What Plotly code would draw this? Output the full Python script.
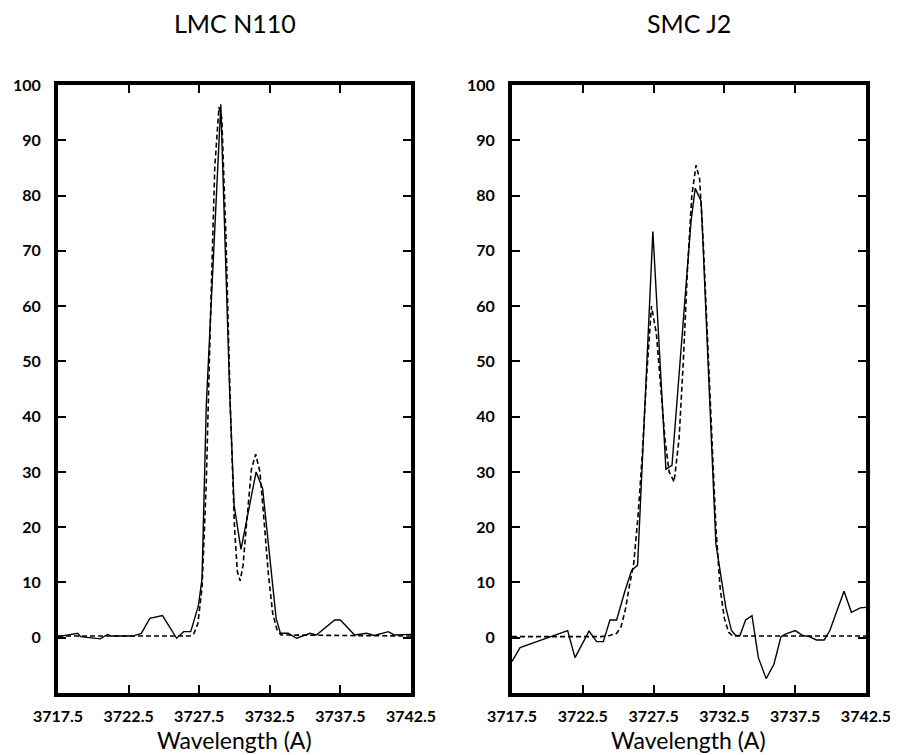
import plotly.graph_objects as go
from plotly.subplots import make_subplots

# LMC N110 - observed (solid) and fitted (dashed)
lmc_wave_obs = [3717.5, 3718.9, 3719.1, 3720.5, 3721.0, 3721.3, 3722.8, 3723.4, 3724.0, 3724.9,
                3725.9, 3726.4, 3726.9, 3727.45, 3727.7, 3728.0, 3729.03, 3729.65, 3729.97, 3730.46,
                3731.53, 3731.99, 3732.95, 3733.25, 3733.8, 3734.4, 3735.35, 3735.8, 3737.1, 3737.5,
                3738.5, 3739.35, 3739.9, 3740.9, 3741.3, 3742.5]
lmc_flux_obs = [0.2, 0.8, 0.2, -0.2, 0.6, 0.3, 0.3, 0.8, 3.5, 4.0,
                -0.1, 1.1, 1.1, 5.9, 10.7, 42, 96.5, 45, 24, 16,
                30, 27, 3.5, 0.8, 0.8, -0.1, 0.8, 0.5, 3.2, 3.2,
                0.5, 0.8, 0.4, 1.1, 0.5, 0.6]
lmc_wave_fit = [3717.5, 3726.8, 3727.1, 3727.4, 3727.7, 3728.0, 3728.3, 3728.6, 3728.9, 3729.1,
                3729.4, 3729.7, 3730.0, 3730.2, 3730.4, 3730.6, 3730.9, 3731.2, 3731.5, 3731.8,
                3732.1, 3732.4, 3732.7, 3733.0, 3733.3, 3742.5]
lmc_flux_fit = [0.3, 0.3, 0.6, 2.5, 9, 28, 58, 85, 96, 94,
                72, 42, 20, 12, 10.3, 13, 22, 30.5, 33.2, 30,
                21, 11.5, 4.5, 1.5, 0.5, 0.3]

# SMC J2 - observed (solid) and fitted (dashed)
smc_wave_obs = [3717.5, 3718.07, 3721.43, 3721.95, 3722.94, 3723.48, 3723.95, 3724.42, 3724.89, 3725.48,
                3725.95, 3726.37, 3727.45, 3728.37, 3728.8, 3730.15, 3730.44, 3730.86, 3731.4, 3731.9,
                3732.6, 3733.0, 3733.3, 3733.6, 3734.0, 3734.45, 3734.9, 3735.45, 3736.0, 3736.5,
                3736.85, 3737.5, 3738.05, 3738.5, 3739.0, 3739.55, 3739.95, 3740.95, 3741.47, 3742.1,
                3742.5]
smc_flux_obs = [-4.3, -1.8, 1.3, -3.6, 1.2, -0.7, -0.7, 3.2, 3.2, 8.5,
                12.2, 13.1, 73.5, 30.5, 31.2, 75.5, 81.3, 79, 46.7, 17,
                5.5, 1.3, 0.4, 0.4, 3.2, 4.0, -3.6, -7.4, -4.8, 0.2,
                0.7, 1.3, 0.4, 0.2, -0.4, -0.4, 1.3, 8.4, 4.6, 5.4,
                5.5]
smc_wave_fit = [3717.5, 3723.8, 3724.4, 3724.9, 3725.2, 3725.5, 3725.8, 3726.1, 3726.4, 3726.7,
                3727.0, 3727.35, 3727.7, 3728.0, 3728.3, 3728.6, 3728.95, 3729.3, 3729.6, 3729.9,
                3730.2, 3730.5, 3730.75, 3731.0, 3731.3, 3731.6, 3731.9, 3732.2, 3732.5, 3732.8,
                3733.1, 3742.5]
smc_flux_fit = [0.2, 0.2, 0.4, 0.8, 2, 5, 9.5, 13.5, 22, 33,
                47, 60, 55, 46, 36, 30, 28.2, 36, 50, 67,
                80, 85.5, 83, 72, 55, 37, 20, 9, 3.5, 1,
                0.3, 0.3]

titles = ["LMC N110", "SMC J2"]
x_ticks = [3717.5, 3722.5, 3727.5, 3732.5, 3737.5, 3742.5]
y_ticks = [0, 10, 20, 30, 40, 50, 60, 70, 80, 90, 100]

fig = make_subplots(rows=1, cols=2)

panels = [
    (lmc_wave_obs, lmc_flux_obs, lmc_wave_fit, lmc_flux_fit),
    (smc_wave_obs, smc_flux_obs, smc_wave_fit, smc_flux_fit),
]
for i, (wo, fo, wf, ff) in enumerate(panels):
    fig.add_trace(
        go.Scatter(x=wf, y=ff, mode="lines",
                   line=dict(color="black", width=1.6, dash="5px,3px")),
        row=1, col=i + 1,
    )
    fig.add_trace(
        go.Scatter(x=wo, y=fo, mode="lines",
                   line=dict(color="black", width=1.4)),
        row=1, col=i + 1,
    )

axis_common = dict(
    showline=True,
    linecolor="black",
    linewidth=4,
    mirror="ticks",
    ticks="inside",
    ticklen=8,
    tickwidth=1.5,
    tickcolor="black",
    showgrid=False,
    zeroline=False,
    automargin=False,
    tickfont=dict(family="Lato", size=16, color="black", weight="bold"),
)

# the page body adds an 8px offset, so the figure is 8px smaller than the window
domains_x = [[0.0562, 0.4528], [0.5663, 0.9640]]
for i in range(2):
    sfx = "" if i == 0 else str(i + 1)
    fig.layout["xaxis" + sfx].update(
        axis_common,
        domain=domains_x[i],
        range=[3717.5, 3742.5],
        tickvals=x_ticks,
        ticktext=[f"{v:.1f}" for v in x_ticks],
        ticklabelstandoff=6,
    )
    fig.layout["yaxis" + sfx].update(
        axis_common,
        domain=[0.0830, 0.8969],
        range=[-10, 100],
        tickvals=y_ticks,
        ticklabelstandoff=10,
    )

    cx = sum(domains_x[i]) / 2
    fig.add_annotation(text=titles[i], xref="paper", yref="paper", x=cx, y=0.9799,
                       xanchor="center", yanchor="middle", showarrow=False,
                       font=dict(family="Lato", size=25, color="black"))
    fig.add_annotation(text="Wavelength (A)", xref="paper", yref="paper", x=cx, y=0.0201,
                       xanchor="center", yanchor="middle", showarrow=False,
                       font=dict(family="Lato", size=23, color="black"))

fig.update_layout(
    width=890,
    height=747,
    margin=dict(l=0, r=0, t=0, b=0),
    paper_bgcolor="white",
    plot_bgcolor="white",
    showlegend=False,
)

fig.write_html("out.html")
